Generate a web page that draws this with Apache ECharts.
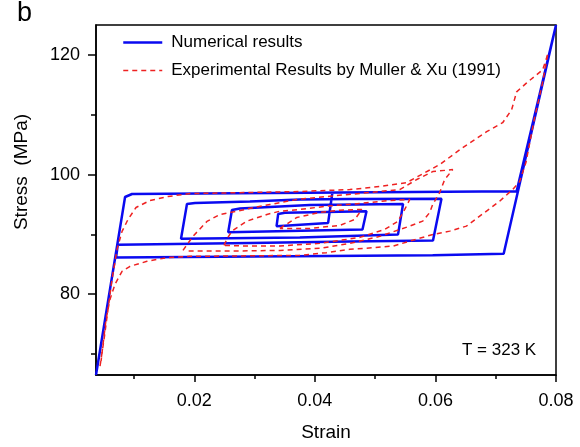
<!DOCTYPE html>
<html><head><meta charset="utf-8">
<script src="https://cdn.jsdelivr.net/npm/echarts@6/dist/echarts.min.js"></script>
<style>html,body{margin:0;padding:0;background:#fff}#c{width:580px;height:447px}</style>
</head><body><div id="c"></div>
<script>
// ---- tick values ----
const xMajorTicks = [0.02, 0.04, 0.06, 0.08];
const xMinorTicks = [0.01, 0.03, 0.05, 0.07];
const yMajorTicks = [80, 100, 120];
const yMinorTicks = [70, 90, 110];

// ---- numerical results [strain, stress MPa] ----
const numerical = [
  [0.0037,66.5],[0.00852,96.25],[0.00968,96.75],[0.07347,97.22],[0.08,125],
  [0.07132,86.75],[0.05955,86.5],[0.00703,86.12],
  [0.00731,88.25],[0.02923,88.58],[0.0458,88.83],[0.0596,89.0],
  [0.061,95.95],[0.0458,95.92],[0.03751,95.83],[0.02923,95.5],[0.02012,95.25],[0.01879,95.08],
  [0.0178,89.28],[0.03751,89.5],[0.0538,90.0],
  [0.05463,95.08],[0.03917,94.92],[0.02757,94.33],[0.02625,94.08],
  [0.02563,90.38],[0.0479,90.83],
  [0.04857,93.88],[0.03503,93.62],[0.03392,93.42],
  [0.03365,91.38],[0.0422,91.92],[0.0429,96.92]
];

// ---- experimental results (Muller & Xu 1991) ----
const expOuterLoad = [
  [0.00437,68.0],[0.00504,72.5],[0.0057,77.5],[0.00636,82.5],[0.00719,87.5],[0.00802,90.5],
  [0.00901,92.5],[0.01034,94.5],[0.01266,95.67],[0.01564,96.33],[0.01929,96.83],[0.02923,97.0],
  [0.03751,97.17],[0.0458,97.5],[0.05077,98.0],[0.05524,98.67],[0.06071,101.67],[0.06452,104.5],
  [0.0685,107.17],[0.07115,108.67],[0.07264,110.83],[0.07347,113.83],[0.07513,115.33],
  [0.07778,117.5],[0.07861,120.0]
];
const expOuterUnload = [
  [0.07861,120.0],[0.0777,115.0],[0.07645,109.5],[0.07501,102.0],[0.07397,98.83],[0.07281,97.5],
  [0.07065,95.55],[0.06734,93.05],[0.06514,91.38],[0.06237,90.55],[0.0596,90.0],[0.05574,88.88],
  [0.05297,88.05],[0.04966,87.78],[0.0458,87.5],[0.04194,86.95],[0.03751,86.5],[0.02923,86.42],
  [0.01929,86.33],[0.01548,86.12],[0.01216,85.5],[0.00935,84.67],[0.00802,83.83],[0.00686,81.67],
  [0.00603,79.17],[0.00537,75.83],[0.00487,71.67],[0.00454,68.83]
];
const expLoop2 = [
  [0.01813,87.33],[0.01978,89.67],[0.0221,92.17],[0.02426,93.33],[0.02708,93.88],[0.02973,94.45],
  [0.03254,95.0],[0.03702,95.83],[0.04249,96.38],[0.04911,97.0],[0.05408,97.5],[0.0569,99.17],
  [0.05955,100.5],[0.06287,100.83],[0.06154,99.17],[0.06071,97.0],[0.05955,95.0],[0.05906,93.67],
  [0.0579,92.22],[0.05574,91.38],[0.05408,90.83],[0.05077,89.67],[0.0458,88.5],[0.04083,87.67],
  [0.0342,87.33],[0.02923,87.25],[0.0231,87.22],[0.01846,87.22]
];
const expLoop3 = [
  [0.02492,88.17],[0.02558,89.5],[0.02625,90.55],[0.02873,92.22],[0.03205,93.33],[0.0342,93.88],
  [0.03751,94.17],[0.04199,94.72],[0.04746,95.17],[0.05243,95.67],[0.05574,95.83],[0.05491,94.17],
  [0.05375,92.17],[0.0516,90.83],[0.04746,89.5],[0.04083,88.5],[0.0342,88.08],[0.02923,88.05],
  [0.02492,88.17]
];
const expLoop4 = [
  [0.0342,91.0],[0.03702,92.83],[0.04083,93.67],[0.04414,94.05],[0.04779,94.17],[0.04663,92.5],
  [0.04414,91.5],[0.03917,91.0],[0.0342,91.0]
];

const NUM_NAME = 'Numerical results';
const EXP_NAME = 'Experimental Results by Muller & Xu (1991)';
const FONT = '"Liberation Sans", Arial, Helvetica, sans-serif';
const BLUE = '#0a0af0';
const RED = '#ee2222';

const chart = echarts.init(document.getElementById('c'), null, {renderer: 'canvas'});

const redStyle = {color: RED, width: 1.5, type: [5, 4]};
const expSeries = [expOuterLoad, expOuterUnload, expLoop2, expLoop3, expLoop4].map(d => ({
  name: EXP_NAME, type: 'line', data: d, showSymbol: false, symbol: 'none',
  lineStyle: redStyle, itemStyle: {color: RED}, z: 3, silent: true
}));

const xBase = {type: 'value', min: 0.0037, max: 0.08, splitLine: {show: false}};
const yBase = {type: 'value', min: 66.5, max: 125, splitLine: {show: false}};

chart.setOption({
  animation: false,
  backgroundColor: '#fff',
  grid: {left: 96, right: 24, top: 25, bottom: 71, show: true, borderColor: '#000', borderWidth: 1.5, backgroundColor: 'transparent'},
  xAxis: [
    Object.assign({}, xBase, {
      position: 'bottom',
      axisLine: {onZero: false, lineStyle: {color: '#000', width: 1.5}},
      axisTick: {show: true, customValues: xMajorTicks, length: 7, lineStyle: {color: '#000', width: 1.5}},
      axisLabel: {customValues: xMajorTicks, formatter: v => v.toFixed(2), fontSize: 18, color: '#000', fontFamily: FONT, margin: 17},
      name: 'Strain', nameLocation: 'middle', nameGap: 48,
      nameTextStyle: {fontSize: 19, color: '#000', fontFamily: FONT}
    }),
    Object.assign({}, xBase, {
      position: 'bottom',
      axisLine: {show: false, onZero: false},
      axisTick: {show: true, customValues: xMinorTicks, length: 4, lineStyle: {color: '#000', width: 1.5}},
      axisLabel: {show: false}
    })
  ],
  yAxis: [
    Object.assign({}, yBase, {
      position: 'left',
      axisLine: {show: true, onZero: false, lineStyle: {color: '#000', width: 1.5}},
      axisTick: {show: true, customValues: yMajorTicks, length: 8, lineStyle: {color: '#000', width: 1.5}},
      axisLabel: {customValues: yMajorTicks, fontSize: 18, color: '#000', fontFamily: FONT, margin: 16}
    }),
    Object.assign({}, yBase, {
      position: 'left',
      axisLine: {show: false, onZero: false},
      axisTick: {show: true, customValues: yMinorTicks, length: 5, lineStyle: {color: '#000', width: 1.5}},
      axisLabel: {show: false}
    })
  ],
  legend: {
    data: [
      {name: NUM_NAME, lineStyle: {color: BLUE, width: 2.5}},
      {name: EXP_NAME, lineStyle: {color: RED, width: 1.5, type: [5, 4]}}
    ],
    orient: 'vertical', left: 122, top: 34, padding: 0,
    itemWidth: 39, itemHeight: 2, itemGap: 11,
    itemStyle: {opacity: 0},
    textStyle: {fontSize: 17, color: '#000', fontFamily: FONT, padding: [0, 0, 0, 4]},
    selectedMode: false
  },
  graphic: [
    {type: 'text', x: 17, y: 14, style: {text: 'b', fontSize: 27, fontFamily: FONT, fill: '#000', textVerticalAlign: 'middle', verticalAlign: 'middle'}},
    {type: 'text', x: 22, y: 172, rotation: Math.PI / 2, style: {text: 'Stress  (MPa)', x: 0, y: 0, fontSize: 19, fontFamily: FONT, fill: '#000', textAlign: 'center', align: 'center', textVerticalAlign: 'middle', verticalAlign: 'middle'}},
    {type: 'text', x: 462, y: 350, style: {text: 'T = 323 K', fontSize: 17, fontFamily: FONT, fill: '#000', textVerticalAlign: 'middle', verticalAlign: 'middle'}}
  ],
  series: [
    {name: NUM_NAME, type: 'line', data: numerical, showSymbol: false, symbol: 'none',
     lineStyle: {color: BLUE, width: 2.5}, itemStyle: {color: BLUE}, z: 2, silent: true}
  ].concat(expSeries)
});
</script>
</body></html>
